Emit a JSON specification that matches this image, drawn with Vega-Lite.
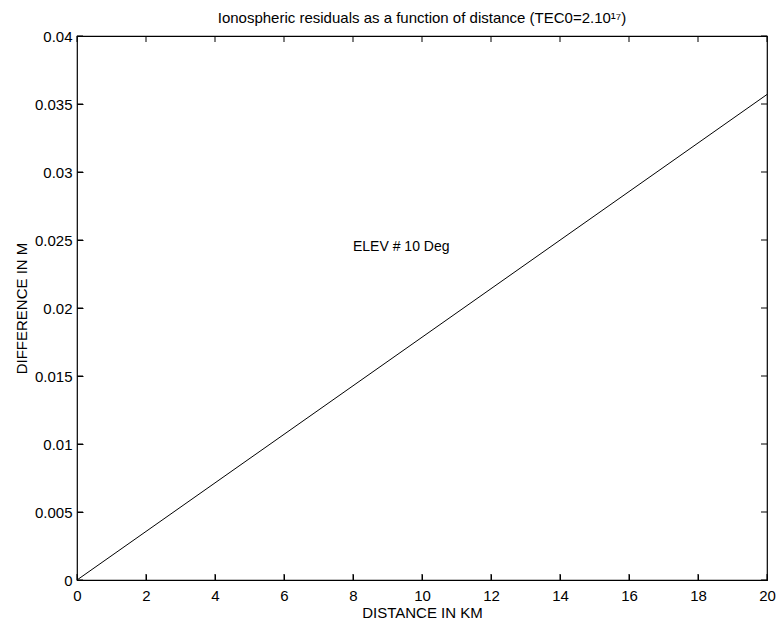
{
  "$schema": "https://vega.github.io/schema/vega-lite/v6.json",
  "width": 690,
  "height": 544,
  "autosize": {"type": "none"},
  "padding": {"left": 77, "top": 36, "right": 11, "bottom": 44},
  "background": "white",
  "config": {
    "font": "Liberation Sans",
    "view": {"stroke": "black", "strokeWidth": 1.2},
    "axis": {
      "grid": false,
      "labelColor": "black",
      "titleColor": "black",
      "labelFont": "Liberation Sans",
      "titleFont": "Liberation Sans",
      "labelFontSize": 15,
      "titleFontSize": 15,
      "titleFontWeight": "normal"
    }
  },
  "datasets": {
    "line": [
      {"distance": 0, "difference": 0},
      {"distance": 20, "difference": 0.0357}
    ],
    "xticks": [
      {"distance": 0}, {"distance": 2}, {"distance": 4}, {"distance": 6}, {"distance": 8}, {"distance": 10},
      {"distance": 12}, {"distance": 14}, {"distance": 16}, {"distance": 18}, {"distance": 20}
    ],
    "yticks": [
      {"difference": 0}, {"difference": 0.005}, {"difference": 0.01}, {"difference": 0.015}, {"difference": 0.02},
      {"difference": 0.025}, {"difference": 0.03}, {"difference": 0.035}, {"difference": 0.04}
    ],
    "label": [
      {"distance": 8, "difference": 0.0245, "text": "ELEV # 10 Deg"}
    ],
    "title": [
      {"distance": 10, "difference": 0.04, "text": "Ionospheric residuals as a function of distance (TEC0=2.10¹⁷)"}
    ]
  },
  "layer": [
    {
      "data": {"name": "line"},
      "mark": {"type": "line", "color": "black", "strokeWidth": 1},
      "encoding": {
        "x": {
          "field": "distance", "type": "quantitative",
          "scale": {"domain": [0, 20], "nice": false},
          "axis": {"orient": "bottom", "values": [0, 2, 4, 6, 8, 10, 12, 14, 16, 18, 20], "title": "DISTANCE IN KM", "titlePadding": 2, "labelPadding": 8, "labelFlush": false, "domain": false, "offset": -6, "ticks": true, "tickSize": 6, "tickColor": "#000000"}
        },
        "y": {
          "field": "difference", "type": "quantitative",
          "scale": {"domain": [0, 0.04], "nice": false},
          "axis": {"orient": "left", "values": [0, 0.005, 0.01, 0.015, 0.02, 0.025, 0.03, 0.035, 0.04], "format": "~g", "title": "DIFFERENCE IN M", "titlePadding": 5, "labelPadding": 5, "labelFlush": false, "domain": false, "offset": -6, "ticks": true, "tickSize": 6, "tickColor": "#000000"}
        }
      }
    },
    {
      "data": {"name": "xticks"},
      "mark": {"type": "tick", "orient": "vertical", "color": "black", "size": 6, "thickness": 1, "yOffset": -3, "opacity": 1},
      "encoding": {
        "x": {"field": "distance", "type": "quantitative"},
        "y": {"datum": 0, "type": "quantitative"}
      }
    },
    {
      "data": {"name": "xticks"},
      "mark": {"type": "tick", "orient": "vertical", "color": "black", "size": 6, "thickness": 1, "yOffset": 3, "opacity": 1},
      "encoding": {
        "x": {"field": "distance", "type": "quantitative"},
        "y": {"datum": 0.04, "type": "quantitative"}
      }
    },
    {
      "data": {"name": "yticks"},
      "mark": {"type": "tick", "orient": "horizontal", "color": "black", "size": 6, "thickness": 1, "xOffset": 3, "opacity": 1},
      "encoding": {
        "y": {"field": "difference", "type": "quantitative"},
        "x": {"datum": 0, "type": "quantitative"}
      }
    },
    {
      "data": {"name": "yticks"},
      "mark": {"type": "tick", "orient": "horizontal", "color": "black", "size": 6, "thickness": 1, "xOffset": -3, "opacity": 1},
      "encoding": {
        "y": {"field": "difference", "type": "quantitative"},
        "x": {"datum": 20, "type": "quantitative"}
      }
    },
    {
      "data": {"name": "label"},
      "mark": {"type": "text", "align": "left", "baseline": "middle", "fontSize": 14, "font": "Liberation Sans", "color": "black"},
      "encoding": {
        "x": {"field": "distance", "type": "quantitative"},
        "y": {"field": "difference", "type": "quantitative"},
        "text": {"field": "text"}
      }
    },
    {
      "data": {"name": "title"},
      "mark": {"type": "text", "align": "center", "baseline": "alphabetic", "dy": -13, "fontSize": 15, "font": "Liberation Sans", "color": "black"},
      "encoding": {
        "x": {"field": "distance", "type": "quantitative"},
        "y": {"field": "difference", "type": "quantitative"},
        "text": {"field": "text"}
      }
    }
  ]
}
